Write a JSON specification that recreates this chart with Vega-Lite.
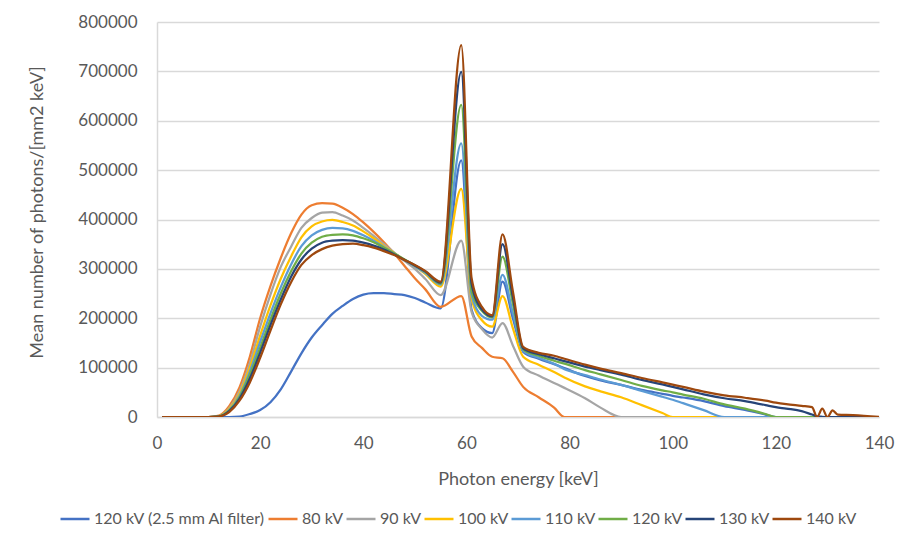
{
  "$schema": "https://vega.github.io/schema/vega-lite/v6.json",
  "width": 722,
  "height": 395,
  "autosize": "none",
  "padding": {"left": 157, "top": 22, "right": 27, "bottom": 123},
  "background": "white",
  "config": {
    "view": {"stroke": null},
    "font": "Lato"
  },
  "data": {
    "values": [
      {"E":1,"F":0,"a80":0,"a90":0,"a100":0,"a110":0,"a120":0,"a130":0,"a140":0},
      {"E":10,"F":0,"a80":0,"a90":0,"a100":0,"a110":0,"a120":0,"a130":0,"a140":0},
      {"E":12,"F":0,"a80":3000,"a90":2000,"a100":2000,"a110":1500,"a120":1500,"a130":1000,"a140":1000},
      {"E":14,"F":0,"a80":22000,"a90":18000,"a100":16000,"a110":14000,"a120":13000,"a130":12000,"a140":10000},
      {"E":16,"F":1000,"a80":60000,"a90":52000,"a100":47000,"a110":43000,"a120":40000,"a130":37000,"a140":33000},
      {"E":18,"F":6000,"a80":122000,"a90":109000,"a100":100000,"a110":92000,"a120":86000,"a130":78000,"a140":70000},
      {"E":20,"F":14000,"a80":200000,"a90":183000,"a100":165000,"a110":152000,"a120":140000,"a130":130000,"a140":120000},
      {"E":22,"F":30000,"a80":265000,"a90":248000,"a100":226000,"a110":210000,"a120":197000,"a130":186000,"a140":175000},
      {"E":24,"F":56000,"a80":322000,"a90":304000,"a100":280000,"a110":263000,"a120":250000,"a130":238000,"a140":228000},
      {"E":26,"F":92000,"a80":372000,"a90":345000,"a100":325000,"a110":309000,"a120":295000,"a130":284000,"a140":273000},
      {"E":28,"F":129000,"a80":410000,"a90":383000,"a100":364000,"a110":346000,"a120":331000,"a130":319000,"a140":308000},
      {"E":30,"F":161000,"a80":429000,"a90":403000,"a100":386000,"a110":368000,"a120":353000,"a130":341000,"a140":328000},
      {"E":32,"F":186000,"a80":433000,"a90":414000,"a100":396000,"a110":379000,"a120":365000,"a130":353000,"a140":340000},
      {"E":34,"F":209000,"a80":432000,"a90":415000,"a100":399000,"a110":383000,"a120":369000,"a130":357000,"a140":347000},
      {"E":36,"F":225000,"a80":424000,"a90":408000,"a100":395000,"a110":382000,"a120":370000,"a130":358000,"a140":350000},
      {"E":38,"F":239000,"a80":411000,"a90":398000,"a100":388000,"a110":377000,"a120":368000,"a130":357000,"a140":351000},
      {"E":40,"F":248000,"a80":394000,"a90":383000,"a100":376000,"a110":368000,"a120":362000,"a130":353000,"a140":348000},
      {"E":42,"F":251000,"a80":375000,"a90":367000,"a100":362000,"a110":357000,"a120":354000,"a130":347000,"a140":343000},
      {"E":44,"F":251000,"a80":354000,"a90":350000,"a100":346000,"a110":344000,"a120":343000,"a130":339000,"a140":336000},
      {"E":46,"F":249000,"a80":331000,"a90":333000,"a100":332000,"a110":331000,"a120":331000,"a130":329000,"a140":328000},
      {"E":48,"F":247000,"a80":306000,"a90":316000,"a100":318000,"a110":318000,"a120":319000,"a130":318000,"a140":318000},
      {"E":50,"F":241000,"a80":281000,"a90":300000,"a100":305000,"a110":305000,"a120":307000,"a130":307000,"a140":308000},
      {"E":52,"F":232000,"a80":259000,"a90":280000,"a100":290000,"a110":292000,"a120":294000,"a130":295000,"a140":296000},
      {"E":55,"F":220000,"a80":223000,"a90":247000,"a100":264000,"a110":268000,"a120":270000,"a130":272000,"a140":274000},
      {"E":59,"F":520000,"a80":245000,"a90":357000,"a100":462000,"a110":554000,"a120":632000,"a130":699000,"a140":753000},
      {"E":61,"F":217000,"a80":163000,"a90":213000,"a100":240000,"a110":247000,"a120":255000,"a130":270000,"a140":281000},
      {"E":63,"F":180000,"a80":140000,"a90":178000,"a100":196000,"a110":205000,"a120":215000,"a130":218000,"a140":223000},
      {"E":65,"F":170000,"a80":122000,"a90":161000,"a100":183000,"a110":197000,"a120":202000,"a130":204000,"a140":206000},
      {"E":67,"F":274000,"a80":119000,"a90":190000,"a100":245000,"a110":288000,"a120":325000,"a130":350000,"a140":370000},
      {"E":69,"F":200000,"a80":92000,"a90":145000,"a100":180000,"a110":210000,"a120":230000,"a130":243000,"a140":255000},
      {"E":71,"F":132000,"a80":61000,"a90":102000,"a100":122000,"a110":134000,"a120":137000,"a130":139000,"a140":142000},
      {"E":74,"F":118000,"a80":40000,"a90":84000,"a100":106000,"a110":120000,"a120":124000,"a130":127000,"a140":130000},
      {"E":77,"F":107000,"a80":19000,"a90":69000,"a100":91000,"a110":108000,"a120":114000,"a130":119000,"a140":124000},
      {"E":79,"F":99000,"a80":0,"a90":59000,"a100":80000,"a110":97000,"a120":108000,"a130":113000,"a140":118000},
      {"E":83,"F":83000,"a80":0,"a90":38000,"a100":62000,"a110":85000,"a120":95000,"a130":102000,"a140":106000},
      {"E":86,"F":74000,"a80":0,"a90":19000,"a100":52000,"a110":76000,"a120":86500,"a130":95000,"a140":98000},
      {"E":90,"F":65000,"a80":0,"a90":0,"a100":40000,"a110":65000,"a120":75000,"a130":86000,"a140":89000},
      {"E":94,"F":55000,"a80":0,"a90":0,"a100":24000,"a110":53000,"a120":63000,"a130":75000,"a140":79000},
      {"E":98,"F":47000,"a80":0,"a90":0,"a100":8000,"a110":41000,"a120":54000,"a130":66000,"a140":70000},
      {"E":100,"F":43000,"a80":0,"a90":0,"a100":0,"a110":35000,"a120":50000,"a130":61000,"a140":65500},
      {"E":102,"F":39500,"a80":0,"a90":0,"a100":0,"a110":28000,"a120":45500,"a130":56000,"a140":61000},
      {"E":106,"F":32000,"a80":0,"a90":0,"a100":0,"a110":14000,"a120":37000,"a130":46000,"a140":51500},
      {"E":110,"F":22000,"a80":0,"a90":0,"a100":0,"a110":0,"a120":25500,"a130":38000,"a140":44000},
      {"E":114,"F":14500,"a80":0,"a90":0,"a100":0,"a110":0,"a120":17000,"a130":32000,"a140":39000},
      {"E":118,"F":5000,"a80":0,"a90":0,"a100":0,"a110":0,"a120":6000,"a130":24000,"a140":33000},
      {"E":120,"F":0,"a80":0,"a90":0,"a100":0,"a110":0,"a120":0,"a130":20000,"a140":29000},
      {"E":122,"F":0,"a80":0,"a90":0,"a100":0,"a110":0,"a120":0,"a130":17000,"a140":26000},
      {"E":125,"F":0,"a80":0,"a90":0,"a100":0,"a110":0,"a120":0,"a130":12000,"a140":22500},
      {"E":127,"F":0,"a80":0,"a90":0,"a100":0,"a110":0,"a120":0,"a130":5000,"a140":20000},
      {"E":128,"F":0,"a80":0,"a90":0,"a100":0,"a110":0,"a120":0,"a130":1500,"a140":0},
      {"E":129,"F":0,"a80":0,"a90":0,"a100":0,"a110":0,"a120":0,"a130":500,"a140":17000},
      {"E":130,"F":0,"a80":0,"a90":0,"a100":0,"a110":0,"a120":0,"a130":0,"a140":0},
      {"E":131,"F":0,"a80":0,"a90":0,"a100":0,"a110":0,"a120":0,"a130":0,"a140":13500},
      {"E":132,"F":0,"a80":0,"a90":0,"a100":0,"a110":0,"a120":0,"a130":0,"a140":5000},
      {"E":135,"F":0,"a80":0,"a90":0,"a100":0,"a110":0,"a120":0,"a130":0,"a140":4000},
      {"E":140,"F":0,"a80":0,"a90":0,"a100":0,"a110":0,"a120":0,"a130":0,"a140":0}
    ]
  },
  "transform": [
    {"fold": ["F","a80","a90","a100","a110","a120","a130","a140"], "as": ["s","v"]}
  ],
  "mark": {"type": "line", "strokeWidth": 2.25, "interpolate": "monotone", "clip": true},
  "encoding": {
    "x": {
      "field": "E", "type": "quantitative",
      "scale": {"domain": [0, 140], "nice": false},
      "axis": {
        "values": [0,20,40,60,80,100,120,140],
        "title": "Photon energy [keV]",
        "grid": false,
        "ticks": false, "tickSize": 0,
        "domainColor": "#D9D9D9", "domainWidth": 1.5,
        "labelFontSize": 17, "labelColor": "#595959", "labelPadding": 26, "labelBaseline": "middle",
        "labelFlush": false,
        "titleFontSize": 18, "titleColor": "#595959", "titleFontWeight": "normal",
        "titleX": 361, "titleY": 62, "titleBaseline": "middle", "titleAlign": "center"
      }
    },
    "y": {
      "field": "v", "type": "quantitative",
      "scale": {"domain": [0, 800000], "nice": false},
      "axis": {
        "values": [0,100000,200000,300000,400000,500000,600000,700000,800000],
        "format": "d",
        "title": "Mean number of photons/[mm2 keV]",
        "gridColor": "#D9D9D9", "gridWidth": 1.5,
        "ticks": false, "tickSize": 0,
        "domainColor": "#D9D9D9", "domainWidth": 1.5,
        "labelFontSize": 17, "labelColor": "#595959", "labelPadding": 20,
        "labelFlush": false,
        "titleFontSize": 18, "titleColor": "#595959", "titleFontWeight": "normal",
        "titleX": -120, "titleY": 190, "titleAngle": -90, "titleBaseline": "middle", "titleAlign": "center"
      }
    },
    "color": {
      "field": "s", "type": "nominal",
      "scale": {
        "domain": ["F","a80","a90","a100","a110","a120","a130","a140"],
        "range": ["#4472C4","#ED7D31","#A5A5A5","#FFC000","#5B9BD5","#70AD47","#264478","#9E480E"]
      },
      "legend": {
        "title": null,
        "orient": "none",
        "direction": "horizontal",
        "legendX": -98,
        "legendY": 481,
        "padding": 0,
        "symbolType": "stroke",
        "symbolSize": 841,
        "symbolStrokeWidth": 2.5,
        "labelOffset": 3,
        "columnPadding": -3,
        "labelFontSize": 16,
        "labelColor": "#595959",
        "labelLimit": 400,
        "labelExpr": "{'F':'120 kV (2.5 mm Al filter)','a80':'80 kV','a90':'90 kV','a100':'100 kV','a110':'110 kV','a120':'120 kV','a130':'130 kV','a140':'140 kV'}[datum.label]"
      }
    }
  }
}
